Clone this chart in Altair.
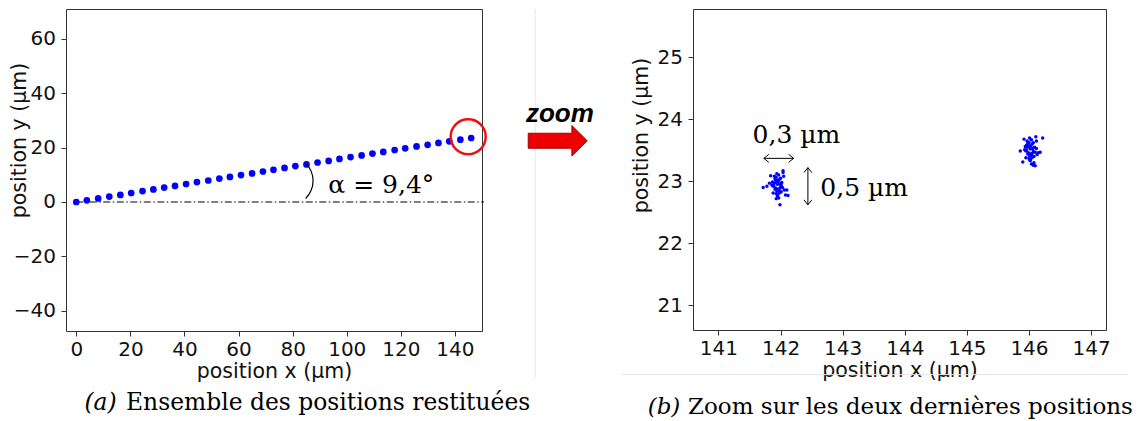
import altair as alt
import pandas as pd

# ---------------- data ----------------
traj_x = [0, 3.9, 8.1, 12.2, 16.3, 20.3, 24.5, 28.5, 32.5, 36.5, 40.6, 44.6, 48.8,
          52.9, 56.8, 60.9, 65.0, 69.0, 72.9, 77.0, 81.0, 85.1, 89.2, 93.3, 97.3,
          101.4, 105.5, 109.5, 113.5, 117.7, 121.6, 125.8, 129.9, 133.9, 137.9, 142.0, 146.0]
traj_y = [0.0, 0.6, 1.3, 2.0, 2.6, 3.3, 4.0, 4.6, 5.3, 5.9, 6.6, 7.3, 7.9,
          8.6, 9.2, 9.9, 10.5, 11.2, 11.8, 12.5, 13.2, 13.8, 14.5, 15.1, 15.8,
          16.5, 17.1, 17.8, 18.4, 19.1, 19.7, 20.4, 21.0, 21.7, 22.3, 22.9, 23.5]

c1_x = [141.95, 141.92, 141.98, 141.90, 142.00, 141.94, 141.88, 141.97, 142.03, 141.93,
        141.96, 141.91, 141.99, 142.05, 141.87, 141.95, 142.01, 141.93, 141.89, 141.97,
        142.02, 141.94, 141.92, 141.98, 142.06, 141.86, 141.96, 141.90, 142.00, 141.93,
        141.99, 142.04, 141.91, 141.95, 141.88, 142.08, 141.78, 141.72, 142.12, 141.99,
        142.04, 141.84, 141.97, 142.10, 141.82, 141.95, 142.01, 141.93]
c1_y = [22.95, 23.02, 22.88, 22.97, 23.05, 22.84, 22.92, 23.10, 22.90, 22.80,
        23.00, 22.87, 22.96, 23.08, 22.99, 22.76, 22.83, 23.06, 22.93, 22.85,
        22.98, 23.12, 22.89, 23.03, 22.86, 22.94, 22.79, 23.08, 22.91, 22.99,
        22.82, 23.14, 23.04, 22.87, 22.81, 22.78, 22.92, 22.90, 22.77, 22.62,
        23.17, 23.09, 22.73, 22.86, 22.97, 23.01, 22.94, 22.72]
c2_x = [146.02, 145.99, 146.05, 145.97, 146.07, 146.01, 145.95, 146.04, 146.10, 146.00,
        146.03, 145.98, 146.06, 146.12, 145.94, 146.02, 146.08, 146.00, 145.96, 146.04,
        146.09, 146.01, 145.99, 146.05, 146.13, 145.93, 146.03, 145.97, 146.07, 146.00,
        146.06, 146.11, 145.98, 146.02, 145.95, 146.18, 145.86, 145.90, 146.22, 146.10,
        146.04, 145.92, 146.08, 146.15, 145.96, 146.01, 146.07, 146.12]
c2_y = [23.52, 23.60, 23.45, 23.55, 23.62, 23.41, 23.49, 23.67, 23.47, 23.37,
        23.57, 23.44, 23.53, 23.65, 23.56, 23.33, 23.40, 23.63, 23.50, 23.42,
        23.55, 23.70, 23.46, 23.60, 23.43, 23.51, 23.36, 23.65, 23.48, 23.56,
        23.39, 23.72, 23.61, 23.44, 23.38, 23.47, 23.49, 23.31, 23.70, 23.25,
        23.28, 23.68, 23.30, 23.46, 23.58, 23.35, 23.26, 23.53]

xticks_l = [0, 20, 40, 60, 80, 100, 120, 140]
yticks_l = [-40, -20, 0, 20, 40, 60]
xticks_r = [141, 142, 143, 144, 145, 146, 147]
yticks_r = [21, 22, 23, 24, 25]

x_title = "position x (µm)"
y_title = "position y (µm)"
angle_label = "α = 9,4°"
width_label = "0,3 µm"
height_label = "0,5 µm"
zoom_label = "zoom"
cap_a_tag, cap_a_text = "(a)", "Ensemble des positions restituées"
cap_b_tag, cap_b_text = "(b)", "Zoom sur les deux dernières positions"

# arrowheads of the two double arrows (tip positions, direction in degrees)
head_x = [141.73, 142.21, 142.44, 142.44]
head_y = [23.37, 23.37, 23.22, 22.62]
head_a = [180, 0, 270, 90]

# ---------------- layout ----------------
LW, LH = 416, 322
RW, RH = 413, 321
SERIF = "DejaVu Serif"
SANS = "DejaVu Sans"

one = pd.DataFrame({"k": [0]})

# ---------------- left panel ----------------
xs_l = alt.Scale(domain=[-3.8, 150.0], nice=False, zero=False)
ys_l = alt.Scale(domain=[-47.4, 70.9], nice=False, zero=False)

left_df = pd.DataFrame({"x": traj_x, "y": traj_y})
pts_l = alt.Chart(left_df).mark_circle(size=45, color="#0000ff", opacity=1).encode(
    x=alt.X("x:Q", scale=xs_l, axis=alt.Axis(values=xticks_l, title=x_title, format="d")),
    y=alt.Y("y:Q", scale=ys_l,
            axis=alt.Axis(values=yticks_l, title=y_title, titleX=-47, titleY=131,
                          titleBaseline="middle", format="d")),
)

base_l = alt.Chart(one)
zero_line = base_l.mark_rule(color="black", strokeWidth=1.2, strokeDash=[7, 2.5, 1.5, 2.5]).encode(
    x=alt.datum(0), x2=alt.value(LW + 2), y=alt.datum(0))
red_circle = base_l.mark_point(shape="circle", size=1225, filled=False, color="#ee1111",
                               strokeWidth=2.5, opacity=1).encode(
    x=alt.datum(144.9), y=alt.datum(24.0))
angle_arc = base_l.mark_arc(radius=25.6, radius2=24.4, theta=0.78, theta2=2.36,
                            color="black").encode(x=alt.datum(78.3), y=alt.datum(7.8))
angle_txt = base_l.mark_text(align="left", baseline="middle", font=SERIF, fontSize=25,
                             color="black").encode(
    x=alt.datum(93.2), y=alt.datum(6.3), text=alt.value(angle_label))
zoom_txt = base_l.mark_text(align="center", baseline="middle", font="Liberation Sans",
                            fontStyle="italic", fontWeight="bold", fontSize=26,
                            color="black").encode(
    x=alt.datum(178.8), y=alt.datum(32.4), text=alt.value(zoom_label))
arrow_path = "M -1 -0.254 L 0.48 -0.254 L 0.48 -0.515 L 1 0 L 0.48 0.515 L 0.48 0.254 L -1 0.254 Z"
zoom_arrow = base_l.mark_point(shape=arrow_path, size=3481, filled=True, fill="#ee0000",
                               stroke="#a00000", strokeWidth=1, opacity=1).encode(
    x=alt.datum(178.0), y=alt.datum(22.5))
sep_line = base_l.mark_rule(color="#e8e8e8", strokeWidth=1).encode(
    x=alt.datum(169.7), y=alt.datum(70.9), y2=alt.datum(-64.6))
cap_a1 = base_l.mark_text(align="left", baseline="middle", font=SERIF, fontStyle="italic",
                          fontSize=23.4, color="black").encode(
    x=alt.datum(3.0), y=alt.datum(-73.8), text=alt.value(cap_a_tag))
cap_a2 = base_l.mark_text(align="left", baseline="middle", font=SERIF,
                          fontSize=23.4, color="black").encode(
    x=alt.datum(18.4), y=alt.datum(-73.8), text=alt.value(cap_a_text))

left = alt.layer(sep_line, zero_line, pts_l, red_circle, angle_arc, angle_txt,
                 zoom_txt, zoom_arrow, cap_a1, cap_a2).properties(width=LW, height=LH)

# ---------------- right panel ----------------
xs_r = alt.Scale(domain=[140.59, 147.24], nice=False, zero=False)
ys_r = alt.Scale(domain=[20.6, 25.78], nice=False, zero=False)

right_df = pd.DataFrame({"x": c1_x + c2_x, "y": c1_y + c2_y})
pts_r = alt.Chart(right_df).mark_circle(size=12, color="#0000ff", opacity=1).encode(
    x=alt.X("x:Q", scale=xs_r, axis=alt.Axis(values=xticks_r, title=x_title, format="d")),
    y=alt.Y("y:Q", scale=ys_r,
            axis=alt.Axis(values=yticks_r, title=y_title, titleX=-52, titleY=126,
                          titleBaseline="middle", format="d")),
)
base_r = alt.Chart(one)
h_arrow = base_r.mark_rule(color="black", strokeWidth=1).encode(
    x=alt.datum(141.73), x2=alt.datum(142.21), y=alt.datum(23.37))
v_arrow = base_r.mark_rule(color="black", strokeWidth=1).encode(
    x=alt.datum(142.44), y=alt.datum(23.22), y2=alt.datum(22.62))
heads = alt.Chart(pd.DataFrame({"x": head_x, "y": head_y, "a": head_a})).mark_point(
    shape="M -1 -0.8 L 0 0 L -1 0.8", size=100, filled=False, stroke="black",
    strokeWidth=1, opacity=1).encode(
    x="x:Q", y="y:Q", angle=alt.Angle("a:Q", scale=None))
w_txt = base_r.mark_text(align="left", baseline="middle", font=SERIF, fontSize=25,
                         color="black").encode(
    x=alt.datum(141.55), y=alt.datum(23.75), text=alt.value(width_label))
h_txt = base_r.mark_text(align="left", baseline="middle", font=SERIF, fontSize=25,
                         color="black").encode(
    x=alt.datum(142.64), y=alt.datum(22.885), text=alt.value(height_label))
bottom_line = base_r.mark_rule(color="#e4e4e4", strokeWidth=1).encode(
    x=alt.datum(139.43), x2=alt.datum(147.6), y=alt.datum(19.88))
cap_b1 = base_r.mark_text(align="left", baseline="middle", font=SERIF, fontStyle="italic",
                          fontSize=23, color="black").encode(
    x=alt.datum(139.86), y=alt.datum(19.36), text=alt.value(cap_b_tag))
cap_b2 = base_r.mark_text(align="left", baseline="middle", font=SERIF,
                          fontSize=23, color="black").encode(
    x=alt.datum(140.51), y=alt.datum(19.36), text=alt.value(cap_b_text))

right = alt.layer(bottom_line, pts_r, h_arrow, v_arrow, heads, w_txt, h_txt,
                  cap_b1, cap_b2).properties(width=RW, height=RH)

chart = alt.hconcat(left, right, spacing=211, bounds="flush").properties(
    padding={"left": 0, "top": 0, "right": 0, "bottom": 0}
).configure_view(
    stroke="#333333", strokeWidth=1
).configure_axis(
    labelFont=SANS, labelFontSize=20, labelColor="#111111",
    titleFont=SANS, titleFontSize=20.5, titleFontWeight="normal", titleColor="#111111",
    tickColor="#333333", tickSize=5, domain=False, grid=False,
).configure_axisX(
    labelPadding=3, titlePadding=2
).configure_axisY(
    labelPadding=5.5
)

chart.save("out.html", embed_options={"renderer": "svg", "actions": False})
